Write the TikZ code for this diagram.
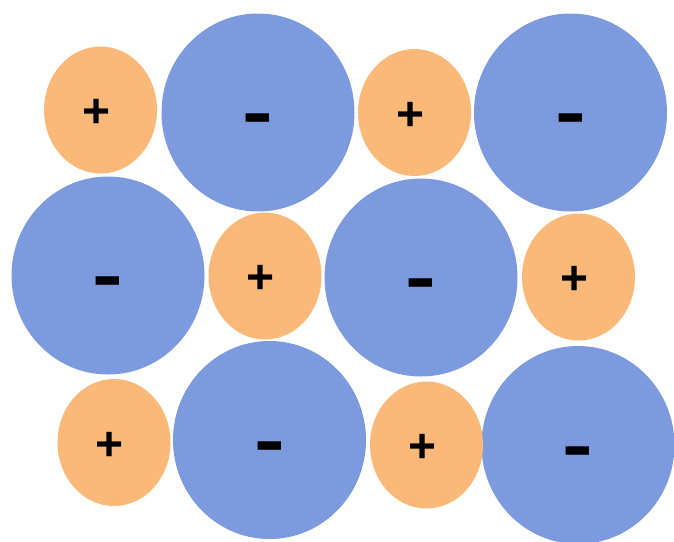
\documentclass[tikz,border=0pt]{standalone}
\usepackage{fontspec}
\setmainfont{Liberation Sans}
\usepackage{tikz}
\usetikzlibrary{shapes.geometric}
\definecolor{ionOrange}{HTML}{FAB978}
\definecolor{ionBlue}{HTML}{7D9ADE}
\tikzset{
  cation/.style={ellipse, fill=ionOrange, inner sep=0pt, minimum width=113pt, minimum height=127pt, text height=35pt, text depth=0pt, font=\fontsize{48}{48}\selectfont\bfseries},
  anion/.style={ellipse, fill=ionBlue, inner sep=0pt, minimum width=193pt, minimum height=198pt, text height=48pt, text depth=0pt, font=\fontsize{46}{46}\selectfont\bfseries}
}
\newcommand{\minussign}{\scalebox{2}[1.55]{-}}
\newcommand{\plussign}{\hspace*{-8pt}+}
\begin{document}
\begin{tikzpicture}[x=1pt,y=-1pt]
  \fill[white] (0,0) rectangle (674,541);
  \useasboundingbox (0,0) rectangle (674,541);
  % negative ions
  \foreach \n/\x/\y in {a1/258/112.5, a2/570.5/112.5, a3/108/275.5, a4/421/277.5, a5/269.5/440, a6/578/445}{
    \node[anion] (\n) at (\x,\y) {\minussign};
  }
  % positive ions
  \foreach \n/\x/\y in {c1/100.5/110, c2/414.5/112.5, c3/265/276, c4/578.5/277, c5/114/442.5, c6/426.5/445}{
    \node[cation] (\n) at (\x,\y) {\plussign};
  }
\end{tikzpicture}
\end{document}
